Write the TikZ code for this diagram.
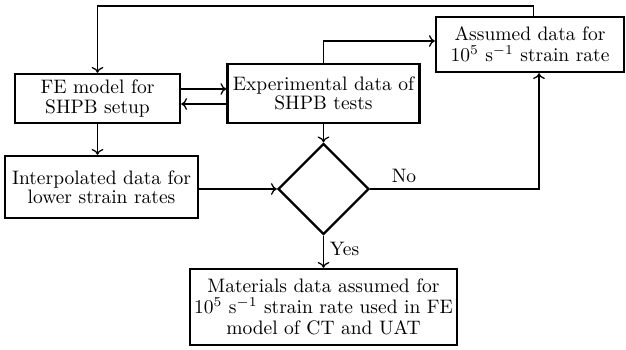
\documentclass[tikz,border=0pt]{standalone}
\usetikzlibrary{shapes.geometric,calc,arrows.meta}

% one drawing unit
\def\pxu{0.5128pt}

\tikzset{
  box/.style={draw, line width=1.2pt, rectangle, inner sep=0pt, align=center,
    font=\fontsize{10pt}{10pt}\selectfont},
  tallbox/.style={box, font=\fontsize{10pt}{10.8pt}\selectfont},
  decision/.style={draw, line width=1.2pt, diamond, aspect=1, inner sep=0pt,
    minimum width={91*\pxu}, minimum height={91*\pxu}},
  arr/.style={-{To[length=3pt,width=6pt]}, line width=0.65pt},
  lbl/.style={font=\fontsize{10pt}{12pt}\selectfont, inner sep=3pt}
}

\begin{document}
\begin{tikzpicture}[x=\pxu, y=-\pxu]
  \useasboundingbox (0,0) rectangle (626,349);

  \node[box, minimum width={165*\pxu}, minimum height={49*\pxu}] (fe) at (97.5,98.5)
    {FE model for\\SHPB setup};
  \node[box, minimum width={192*\pxu}, minimum height={59*\pxu}] (exp) at (323.5,93.5)
    {Experimental data of\\SHPB tests};
  \node[tallbox, minimum width={188*\pxu}, minimum height={55*\pxu}] (assumed) at (530,44.5)
    {Assumed data for\\10$^5$ s$^{-1}$ strain rate};
  \node[box, minimum width={193*\pxu}, minimum height={62*\pxu}] (interp) at (101.5,187)
    {Interpolated data for\\lower strain rates};
  \node[decision] (dia) at (323.5,189) {};
  \node[tallbox, minimum width={267*\pxu}, minimum height={76*\pxu}] (mat) at (323.5,307)
    {Materials data assumed for\\10$^5$ s$^{-1}$ strain rate used in FE\\model of CT and UAT};

  % helper points on box edges
  \coordinate (feout) at ([yshift=9.5*\pxu]fe.east);
  \coordinate (fein) at ([yshift=-5.5*\pxu]fe.east);
  \coordinate (asin) at ([yshift=3.5*\pxu]assumed.west);
  \coordinate (astop) at ([xshift=3.5*\pxu]assumed.north);
  \coordinate (asbot) at ([xshift=9*\pxu]assumed.south);
  \coordinate (topline) at (0,6);

  % FE model <-> experimental data
  \draw[arr] (feout) -- (feout -| exp.west);
  \draw[arr] (fein -| exp.west) -- (fein);

  % experimental data -> assumed data
  \draw[arr] (exp.north) |- (asin);

  % assumed data -> FE model (top loop)
  \draw[arr] (astop) -- (astop |- topline) -- (topline -| fe.north) -- (fe.north);

  % FE model -> interpolated data
  \draw[arr] (fe.south) -- (fe.south |- interp.north);

  % into the decision
  \draw[arr] (dia.west -| interp.east) -- (dia.west);
  \draw[arr] (exp.south) -- (dia.north);

  % decision outcomes
  \draw[arr] (dia.east) -- node[lbl, above, pos=0.2] {No} (dia.east -| asbot) -- (asbot);
  \draw[arr] (dia.south) -- node[lbl, right, pos=0.4] {Yes} (mat.north);
\end{tikzpicture}
\end{document}
